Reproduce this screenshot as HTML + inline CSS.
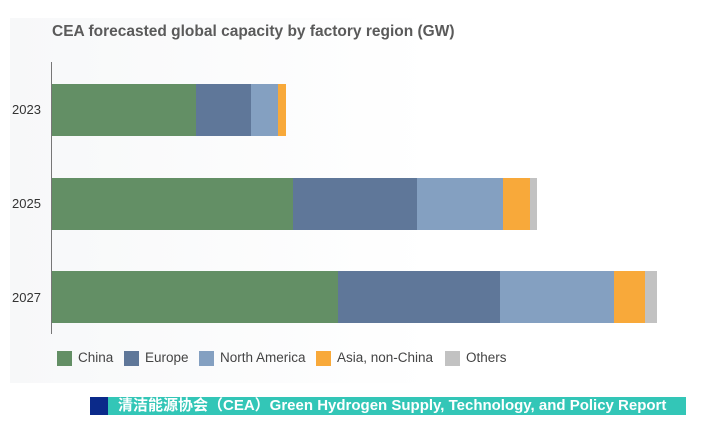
<!DOCTYPE html>
<html><head><meta charset="utf-8"><style>
body{margin:0;width:712px;height:426px;background:#fff;position:relative;overflow:hidden;font-family:"Liberation Sans",Arial,sans-serif}
.bg{position:absolute;left:10px;top:18px;width:470px;height:365px;background:linear-gradient(90deg,#f7f8f9,#fff 90%)}
.t{position:absolute;left:52px;top:23px;font-size:15.5px;font-weight:bold;color:#5a5a5a}
.ax{position:absolute;left:51px;top:62px;width:1px;height:272px;background:#777}
.b{position:absolute;height:52px}
.y{position:absolute;left:12px;font-size:13px;color:#333}
.lg{position:absolute;top:350px;font-size:13.5px;color:#444;line-height:16px}
.sw{position:absolute;top:351px;width:15px;height:15px}
.ban{position:absolute;top:397px;height:18px;left:108px;width:578px;background:#33c6b7;color:#fff;font-weight:bold;font-size:15px;line-height:18px;padding-left:10px;box-sizing:border-box;font-family:"Liberation Sans","Noto Sans CJK SC",sans-serif;white-space:nowrap;overflow:hidden}
</style></head><body>
<div class="bg"></div>
<div class="t">CEA forecasted global capacity by factory region (GW)</div>
<div class="ax"></div>
<div class="y" style="top:102px">2023</div>
<div class="y" style="top:196px">2025</div>
<div class="y" style="top:290px">2027</div>

<div class="b" style="top:84px;left:52px;width:144px;background:#638f65"></div>
<div class="b" style="top:84px;left:196px;width:55px;background:#5f7799"></div>
<div class="b" style="top:84px;left:251px;width:27px;background:#84a0c1"></div>
<div class="b" style="top:84px;left:278px;width:8px;background:#f8a93a"></div>

<div class="b" style="top:178px;left:52px;width:241px;background:#638f65"></div>
<div class="b" style="top:178px;left:293px;width:124px;background:#5f7799"></div>
<div class="b" style="top:178px;left:417px;width:86px;background:#84a0c1"></div>
<div class="b" style="top:178px;left:503px;width:27px;background:#f8a93a"></div>
<div class="b" style="top:178px;left:530px;width:7px;background:#c2c2c2"></div>

<div class="b" style="top:271px;left:52px;width:286px;background:#638f65"></div>
<div class="b" style="top:271px;left:338px;width:162px;background:#5f7799"></div>
<div class="b" style="top:271px;left:500px;width:114px;background:#84a0c1"></div>
<div class="b" style="top:271px;left:614px;width:31px;background:#f8a93a"></div>
<div class="b" style="top:271px;left:645px;width:12px;background:#c2c2c2"></div>

<div class="sw" style="left:57px;background:#638f65"></div><div class="lg" style="left:78px">China</div>
<div class="sw" style="left:124px;background:#5f7799"></div><div class="lg" style="left:145px">Europe</div>
<div class="sw" style="left:199px;background:#84a0c1"></div><div class="lg" style="left:220px">North America</div>
<div class="sw" style="left:316px;background:#f8a93a"></div><div class="lg" style="left:337px">Asia, non-China</div>
<div class="sw" style="left:445px;background:#c2c2c2"></div><div class="lg" style="left:466px">Others</div>

<div style="position:absolute;left:90px;top:397px;width:18px;height:18px;background:#0b2a8a"></div>
<div class="ban">清洁能源协会（CEA）Green Hydrogen Supply, Technology, and Policy Report</div>
</body></html>
